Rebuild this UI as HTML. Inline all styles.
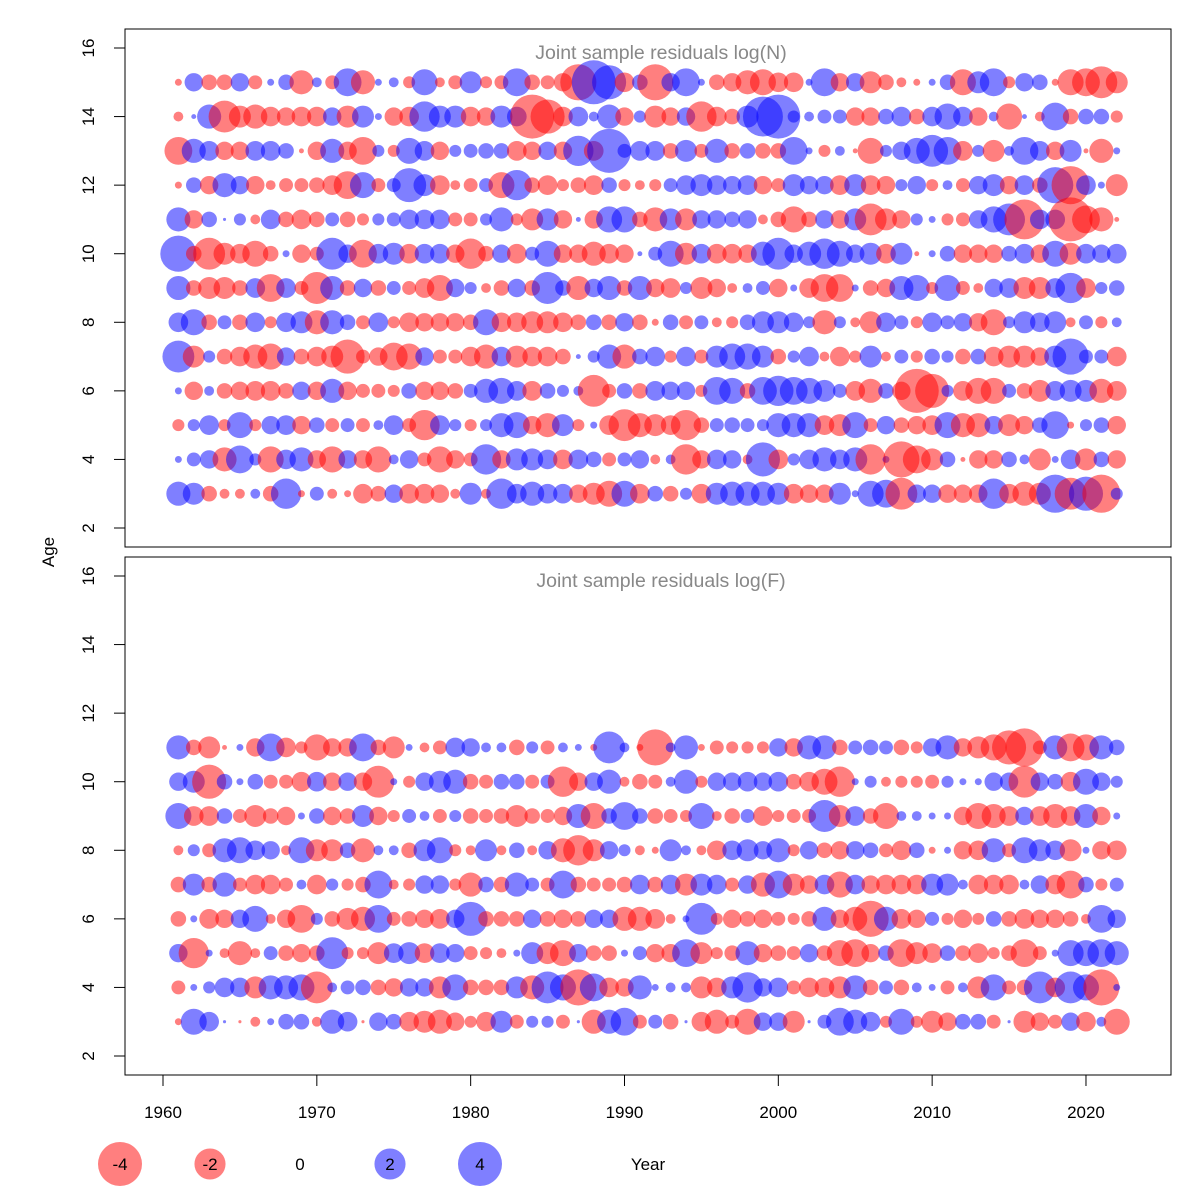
<!DOCTYPE html>
<html><head><meta charset="utf-8"><style>
html,body{margin:0;padding:0;background:#fff}
svg{display:block;font-family:"Liberation Sans",sans-serif}
</style></head><body>
<svg id="chart" width="1200" height="1200" viewBox="0 0 1200 1200" xmlns="http://www.w3.org/2000/svg"></svg>
<script>
const years = [];
for (let y = 1961; y <= 2022; y++) years.push(y);
const yTicks = [2,4,6,8,10,12,14,16];
const xTicks = [1960,1970,1980,1990,2000,2010,2020];
const legendValues = [-4,-2,0,2,4];

const agesN = [15,14,13,12,11,10,9,8,7,6,5,4,3];
const resN15 = [-0.1,0.7,-0.5,-0.5,0.7,-0.4,0.1,0.5,-1.2,0.2,-0.4,1.6,-1.2,0.1,0.2,-0.3,1.4,-0.2,-0.4,1,-0.3,-0.4,1.6,-0.5,-0.4,-0.7,-2.7,4,2.4,-0.8,0.5,-2.7,0.7,1.6,0.1,-0.5,-0.7,-1.2,-1.4,-0.8,-0.8,0.1,1.6,-0.7,0.7,-1,-0.5,-0.2,-0.1,0.1,0.5,-1.4,1,1.6,-0.3,0.7,0.5,-0.1,-1.4,-1.6,-2.1,-1];
const resN14 = [-0.2,0.05,1.2,-2.1,-1,-1.2,-0.8,-0.7,-0.8,-0.8,0.7,-1,1,0.1,-0.7,-0.8,1.9,1,1,-0.8,-0.7,1,0.8,-4,-2.4,-0.8,0.8,0.2,1.2,-0.7,0.3,-1,-0.7,0.7,-1.9,-0.8,-0.5,1,3.3,4,0.3,0.2,0.4,0.4,-0.7,-0.7,0.5,0.8,-0.5,0.8,1.4,0.8,-0.7,0.2,-1.4,0.05,-0.2,1.6,-0.5,0.5,0.5,-0.3];
const resN13 = [-1.6,1.2,0.8,-0.7,-0.7,0.8,0.8,0.5,-0.05,-0.7,1.2,-0.7,-1.6,0.3,-0.3,1.4,0.8,-0.7,0.3,0.4,0.5,0.5,-0.8,-0.7,0.7,-0.7,1.9,-0.8,4,0.4,0.8,0.8,-0.5,1,-0.4,1.2,-0.5,0.5,-0.5,-0.5,1.6,0.1,-0.3,0.2,-0.05,-1.4,0.3,0.7,1.4,2.1,1.6,-0.8,0.3,-1,0.2,1.6,0.8,-0.7,1,-0.05,-1.2,0.1];
const resN12 = [-0.1,0.5,-0.7,1.2,0.7,-0.7,-0.2,-0.4,-0.4,-0.5,-0.8,-1.6,1.4,-0.4,0.4,2.4,1,-0.8,-0.2,-0.4,0.4,-1.4,1.9,-0.5,-0.8,-0.3,-0.5,-0.8,0.5,-0.3,-0.2,-0.3,0.4,0.8,1,0.8,0.7,0.8,-0.7,-0.4,1,0.7,0.7,-0.8,1,-0.8,-0.7,0.3,0.7,-0.3,0.2,-0.4,0.7,1,-0.7,0.8,-0.5,2.7,-3,0.8,0.1,-1];
const resN11 = [1.2,-0.7,0.5,0.02,0.3,-0.2,0.8,-0.5,-0.8,-0.5,0.4,-0.5,-0.3,0.3,0.4,0.8,0.8,0.8,-0.4,-0.4,0.3,1.2,-0.3,-1,1,-0.7,0.05,-0.7,1.4,1.4,-0.5,-1.2,1,-1,0.7,0.7,0.5,0.7,-0.2,-0.5,-1.4,-0.5,0.7,-0.7,1,-2.1,-1,-0.7,0.3,0.1,-0.3,-0.4,0.7,1.4,2.1,-3.3,0.8,0.8,-4,-1.6,-1.2,-0.05];
const resN10 = [2.7,-0.5,-2.1,-1,-0.8,-1.4,-0.5,0.1,-0.7,-0.4,2.1,0.7,-1.6,0.8,1,-0.8,0.8,0.8,-0.7,-1.9,-0.5,0.7,-0.8,0.4,1.4,-0.7,-0.7,-1.2,-0.8,-0.7,0.05,0.4,1.4,-1,0.8,-0.8,-0.8,-0.7,1.2,2.1,0.7,1.2,1.9,1.4,0.7,1,-0.8,1,-0.05,0.1,0.5,-0.7,-0.7,-0.7,0.5,0.8,-0.7,1.4,-1,0.8,0.7,0.8];
const resN9 = [1.2,-0.5,-1,-1,-0.5,0.8,-1.6,0.8,-0.4,-2.1,1.2,-0.5,0.7,-0.5,0.4,-0.4,-0.8,-1.4,0.7,0.3,-0.2,-0.5,0.7,-0.5,2.1,0.5,-1.2,0.7,1.2,-0.5,1.2,-0.7,-0.8,0.3,-1,-0.7,-0.2,0.2,0.4,-0.7,0.1,-0.8,-1.6,-1.6,0.1,-0.5,-0.7,1.2,1.4,-0.3,1.4,-0.4,-0.2,0.7,0.8,-1,-1,0.8,1.9,-0.8,0.3,0.5];
const resN8 = [0.8,1.4,-0.5,0.4,-0.5,0.8,-0.3,0.8,1,-1.2,1.2,0.5,-0.4,0.8,-0.3,-0.8,-0.7,-0.7,-0.7,-0.5,1.4,-0.8,-0.8,-1,-1,-0.8,-0.5,0.5,-0.5,0.7,-0.5,-0.1,0.5,-0.4,0.4,-0.2,-0.3,0.5,1,1,0.8,0.3,-1.2,0.3,-0.2,-1,0.8,0.4,-0.3,0.8,0.4,0.7,-0.7,-1.4,0.3,1,0.8,1,-0.2,0.4,-0.3,0.2];
const resN7 = [2.1,-1,0.3,-0.5,-0.8,-1.2,-1.4,0.7,-0.5,-0.8,-1,-2.4,-0.4,-0.7,-1.6,-1.4,0.7,-0.4,-0.4,-0.8,-1.2,0.8,-1,-0.8,-0.8,-0.5,0.05,0.3,1.2,-1.2,0.5,0.8,-0.3,0.8,-0.4,1,1.4,1.4,1,-0.5,0.3,0.8,-0.2,-0.8,-0.3,1,-0.2,0.4,-0.3,0.5,0.3,-0.5,0.5,-0.8,-1,-1,-0.7,1,2.7,0.4,0.4,-0.8];
const resN6 = [0.1,-0.7,0.2,-0.5,-0.7,-0.8,-0.8,-0.5,0.7,-0.7,1.2,-0.7,-0.4,-0.4,-0.3,0.5,-0.7,-0.7,-0.5,0.4,1.2,1.4,0.8,-0.8,0.5,0.3,0.2,-2.1,-0.4,0.5,-0.5,0.8,0.7,0.7,-0.3,1.6,1.4,-0.5,1.6,1.9,1.6,1.4,1,0.4,-0.8,-1.2,0.5,-0.7,-4,-2.4,0.3,-0.8,-1.4,-1.4,0.4,-0.5,-1,0.8,1,1,-1.2,-0.8];
const resN5 = [-0.3,0.3,0.8,-0.3,1.4,-0.3,0.7,0.8,-0.7,0.5,-0.4,0.4,-0.4,0.2,0.8,-0.4,-1.9,0.8,0.3,-0.3,0.3,1.2,1.4,-0.7,-1.2,1,-0.3,0.1,-0.8,-2.1,-1.2,-1,-0.8,-1.9,-0.5,0.4,0.5,0.4,0.3,1.2,1.2,1.2,-0.8,-1,1.4,-0.4,0.7,-0.5,-0.7,-0.8,1.4,-1.2,-1.2,0.7,-1,-0.7,0.5,1.6,-0.1,0.3,0.5,-0.7];
const resN4 = [0.1,0.4,0.7,-1.2,1.6,0.3,-1.4,0.8,1.2,-0.7,-1.4,0.7,-0.7,-1.4,0.2,0.7,-0.4,-1.4,-0.7,-0.4,1.9,-0.7,1,1,0.8,-0.8,0.8,0.5,-0.4,0.4,0.7,-0.2,0.2,-1.9,-0.7,0.8,0.7,-0.2,2.4,-0.8,0.3,0.8,1.2,0.8,1.2,-1.9,0.1,-2.7,-1.6,-1,0.5,-0.05,-0.7,-0.7,0.5,0.2,-1,0.1,0.8,-1,0.5,-0.7];
const resN3 = [1.2,1,-0.5,-0.2,-0.2,0.2,-0.5,1.9,-0.1,0.4,-0.2,-0.1,-0.8,-0.5,0.7,-0.8,-0.8,-0.7,-0.2,1,-0.2,1.9,0.8,1.2,0.8,0.8,-0.7,-1,-1.4,1.4,-0.8,0.5,-0.5,0.3,-0.8,1,1.2,1.2,1.2,1,-0.8,-0.7,-0.7,1,0.1,1.4,1.6,-2.1,0.7,0.7,-0.7,-0.7,-0.7,1.9,-0.8,-1.2,-1,3,-2.1,2.4,-3,0.3];
const seriesN = [resN15,resN14,resN13,resN12,resN11,resN10,resN9,resN8,resN7,resN6,resN5,resN4,resN3];

const agesF = [11,10,9,8,7,6,5,4,3];
const resF11 = [1.2,-0.5,-1,-0.05,0.1,-0.7,1.6,-0.8,-0.3,-1.4,-0.7,-0.7,1.6,-0.5,-1,0.1,-0.2,-0.4,0.8,0.7,0.2,0.2,-0.5,0.3,-0.4,0.2,0.1,-0.1,2.1,0.2,-0.1,-2.7,0.2,1.2,-0.1,-0.4,-0.3,-0.3,-0.3,0.7,-0.7,1.2,1.2,-0.5,0.4,0.5,0.4,-0.5,-0.3,0.7,1.2,-0.7,-1,-1.4,-2.4,-3,-0.4,1.2,-1.6,-1.4,1.2,0.5];
const resF10 = [0.7,1,-2.4,0.5,0.1,0.5,-0.4,-0.4,-0.8,0.8,-0.7,0.7,-0.7,-2.1,0.1,-0.3,0.7,1,1.2,-0.5,-0.4,0.5,0.5,-0.4,0.4,-1.9,-0.7,0.7,1.2,-0.2,-0.5,-0.4,0.2,1.2,-0.3,0.7,0.7,0.8,0.7,0.8,-0.5,-0.8,-1.4,-1.9,0.1,0.3,-0.2,-0.3,-0.3,-0.4,0.3,0.1,0.1,0.7,0.7,-2.1,0.7,0.5,-0.8,1.4,0.7,0.3];
const resF9 = [1.4,-0.8,-0.8,0.5,-0.4,-1,-0.5,-0.7,0.1,0.5,-0.7,-0.5,1,-0.7,-0.3,0.4,0.2,-0.4,0.3,-0.5,-0.4,-0.5,-1,-0.5,-0.4,-0.7,1.2,-1.4,0.5,1.6,0.5,-0.5,-0.4,-0.3,1.4,-0.2,-0.5,0.4,-0.8,-0.3,-0.4,-0.4,2.1,-1,0.8,-0.5,-1.4,0.2,0.2,0.1,0.1,-0.7,-1.4,-1.2,-0.8,0.7,-0.8,-1.2,-0.8,1.2,-0.7,0.1];
const resF8 = [-0.2,0.3,-0.4,1.2,1.4,0.8,0.7,-0.2,1.4,-1,-1,0.5,-1.2,0.2,0.2,-0.5,1,1.4,-0.3,-0.2,1,-0.2,0.5,-0.2,0.7,-1.2,-1.9,-1,0.7,0.3,-0.2,-0.1,1,0.2,-0.2,-0.8,0.8,1,0.7,1.2,-0.3,0.7,-0.5,-0.7,0.7,0.5,-0.4,-0.8,0.5,-0.1,0.1,-0.7,-0.8,1.2,-0.4,1.4,1,0.8,-1,0.1,-0.7,-0.8];
const resF7 = [-0.5,1,-0.5,1.2,-0.4,-0.8,-0.8,-0.4,0.2,-0.8,0.3,-0.3,-0.5,1.6,-0.2,-0.3,0.7,0.7,-0.3,-1.2,0.5,-0.5,1.2,0.4,-0.4,1.6,-0.5,-0.4,-0.4,-0.5,0.8,-0.5,0.8,-1,1,0.8,-0.4,0.7,-1.2,1.6,-1,-0.7,0.8,-1.4,0.8,-0.7,-0.8,-0.8,-0.8,1,1,0.2,-0.8,-0.8,-0.8,0.2,0.7,-0.8,-1.6,0.5,-0.3,0.4];
const resF6 = [-0.5,0.1,-0.8,-0.7,0.7,1.4,-0.2,-0.7,-1.6,0.3,-0.5,-1,-1.2,1.6,-0.4,-0.5,-0.7,-0.8,0.7,2.4,-0.5,-0.5,-0.5,0.7,-0.5,-0.7,-0.5,0.7,0.7,-1.2,-1.2,-0.8,-0.2,0.1,2.1,-0.3,-0.7,-0.5,-0.7,-0.4,-0.3,-0.5,1.2,-0.7,-1.2,-2.7,1.2,-0.8,-0.7,0.4,-0.3,-0.7,-0.3,0.5,-0.5,-0.8,-0.7,-0.7,-0.5,-0.2,1.6,0.7];
const resF5 = [0.7,-1.9,0.1,-0.2,-1.2,-0.2,0.4,-0.5,-0.7,-0.5,2.1,-0.3,-0.3,-1,0.8,1,-0.8,0.8,0.7,-0.4,-0.3,-0.2,0.1,1,-1,-1.4,0.7,-0.5,-0.5,0.1,0.4,-0.7,-0.7,1.6,-1,-0.3,-0.5,1.2,-0.7,-0.5,-0.4,0.7,-0.5,-1.4,-1.6,-0.7,0.5,-1.6,-1,-0.8,0.5,-0.5,-0.8,-0.3,-0.5,-1.6,-0.4,0.1,1.4,1.4,1.6,1.2];
const resF4 = [-0.4,0.1,0.3,0.8,0.8,-1,1.2,1.2,1.4,-2.1,0.2,0.4,0.5,-0.5,-0.7,0.7,0.7,-1,1.4,-0.5,-0.5,-0.5,1,-1.2,2.1,1.4,-2.7,1.6,-0.8,-0.7,1.2,0.1,0.2,0.2,-1,-0.8,1,1.9,0.7,0.8,-0.4,-0.8,-0.8,-1,1.2,-0.5,0.4,-0.5,0.2,0.1,-0.4,0.2,-1,1.4,-0.4,-0.5,2.1,-0.8,2.1,1.4,-2.7,0.1];
const resF3 = [-0.1,1.4,0.8,0.02,-0.02,-0.2,0.1,0.5,0.5,-0.2,1.2,0.8,-0.02,0.7,0.5,-0.8,-1,-1.2,-0.7,-0.3,-0.8,1,-0.4,0.3,0.3,-0.4,0.02,-1.2,1.2,1.6,-0.4,0.4,-0.5,0.02,-0.8,-1.2,-0.4,-1.4,0.7,0.7,-1,0.02,0.4,1.6,1.2,0.8,-0.3,1.4,-0.3,-1,-0.7,0.5,0.5,-0.4,0.02,-1,-0.7,-0.4,0.7,-0.8,0.2,-1.4];
const seriesF = [resF11,resF10,resF9,resF8,resF7,resF6,resF5,resF4,resF3];

const NS = "http://www.w3.org/2000/svg";
const svg = document.getElementById('chart');
function mk(tag, attrs, parent, text) {
  const e = document.createElementNS(NS, tag);
  for (const k in attrs) e.setAttribute(k, attrs[k]);
  if (text !== undefined) e.textContent = text;
  (parent || svg).appendChild(e);
  return e;
}
const xScale = yr => 163 + (yr - 1960) * 15.383;
const unitY = 480 / 14;
const yTop = v => 528 - (v - 2) * unitY;
const yBot = v => 1056 - (v - 2) * unitY;
const rScale = v => 11 * Math.sqrt(Math.abs(v));
const fillFor = v => v >= 0 ? 'rgba(0,0,255,0.5)' : 'rgba(255,0,0,0.5)';

function panel(name, boxY, boxH, yS, title, ages, series) {
  const g = mk('g', {});
  
  
  const box = mk('rect', {x:125, y:boxY, width:1046, height:boxH, fill:'none', stroke:'#000', 'stroke-width':1}, g);
  
  
  const axis = mk('g', {}, g);
  
  
  mk('line', {x1:125, x2:125, y1:yS(2), y2:yS(16), stroke:'#000'}, axis);
  yTicks.forEach(t => {
    mk('line', {x1:114, x2:125, y1:yS(t), y2:yS(t), stroke:'#000'}, axis);
    const lab = mk('text', {x:94, y:yS(t), 'font-size':17, 'text-anchor':'middle', transform:`rotate(-90 94 ${yS(t)})`}, axis, String(t));
    
    
  });
  const tt = mk('text', {x:661, y:yS(16) + 11, 'font-size':19.5, 'text-anchor':'middle', fill:'#888'}, g, title);
  
  
  series.forEach((row, i) => {
    row.forEach((v, j) => {
      if (j >= years.length) return;
      const c = mk('circle', {cx:xScale(years[j]), cy:yS(ages[i]), r:rScale(v), fill:fillFor(v)}, g);
      
      
    });
  });
}
panel('panel-log-n', 29, 518, yTop, 'Joint sample residuals log(N)', agesN, seriesN);
panel('panel-log-f', 557, 518, yBot, 'Joint sample residuals log(F)', agesF, seriesF);

const ageLab = mk('text', {x:54, y:552, 'font-size':17, 'text-anchor':'middle', transform:'rotate(-90 54 552)'}, svg, 'Age');



const xa = mk('g', {});


mk('line', {x1:xScale(1960), x2:xScale(2020), y1:1075, y2:1075, stroke:'#000'}, xa);
xTicks.forEach(t => {
  mk('line', {x1:xScale(t), x2:xScale(t), y1:1075, y2:1086, stroke:'#000'}, xa);
  const l = mk('text', {x:xScale(t), y:1118, 'font-size':17, 'text-anchor':'middle'}, xa, String(t));
  
  
});

const lg = mk('g', {});


legendValues.forEach((v, i) => {
  const cx = 120 + i * 90;
  if (v !== 0) {
    const c = mk('circle', {cx:cx, cy:1164, r:rScale(v), fill:fillFor(v)}, lg);
    
    
  }
  const t = mk('text', {x:cx, y:1170, 'font-size':17, 'text-anchor':'middle'}, lg, String(v));
  
  
});
const yl = mk('text', {x:648, y:1170, 'font-size':17, 'text-anchor':'middle'}, svg, 'Year');


</script>
</body></html>
